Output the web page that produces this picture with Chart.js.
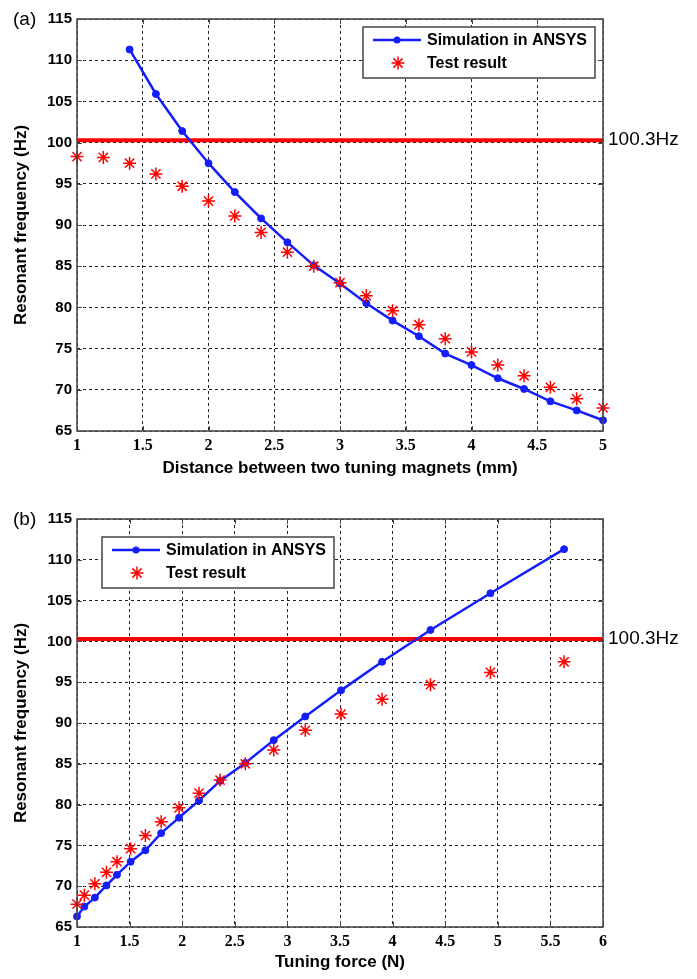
<!DOCTYPE html>
<html>
<head>
<meta charset="utf-8">
<script src="https://cdn.jsdelivr.net/npm/chart.js@4/dist/chart.umd.min.js"></script>
<style>
  html, body { margin: 0; padding: 0; background: #fff; }
  canvas { display: block; }
</style>
</head>
<body>
<canvas id="chartA" width="697" height="490"></canvas>
<canvas id="chartB" width="697" height="489"></canvas>
<script>
// magnet spacing (mm) of the ANSYS runs and the resonant frequency they gave (Hz)
const simDistance = [1.4, 1.6, 1.8, 2.0, 2.2, 2.4, 2.6, 2.8, 3.0, 3.2, 3.4, 3.6, 3.8, 4.0, 4.2, 4.4, 4.6, 4.8, 5.0];
const simFreq = [111.3, 105.9, 101.4, 97.5, 94.0, 90.8, 87.9, 85.1, 82.9, 80.5, 78.4, 76.5, 74.4, 73.0, 71.4, 70.1, 68.6, 67.5, 66.3];

// bench measurements
const testDistance = [1.0, 1.2, 1.4, 1.6, 1.8, 2.0, 2.2, 2.4, 2.6, 2.8, 3.0, 3.2, 3.4, 3.6, 3.8, 4.0, 4.2, 4.4, 4.6, 4.8, 5.0];
const testFreq = [98.3, 98.2, 97.5, 96.2, 94.7, 92.9, 91.1, 89.1, 86.7, 85.0, 83.0, 81.4, 79.6, 77.9, 76.2, 74.6, 73.0, 71.7, 70.3, 68.9, 67.8];

// tuning force (N) between the magnets at each spacing of simDistance
const tuningForce = [5.63, 4.93, 4.36, 3.90, 3.51, 3.17, 2.87, 2.60, 2.36, 2.16, 1.97, 1.80, 1.65, 1.51, 1.38, 1.28, 1.17, 1.07, 1.00];

const targetFreq = 100.3;

const freqTicks = [65, 70, 75, 80, 85, 90, 95, 100, 105, 110, 115];
const distanceTicks = [1, 1.5, 2, 2.5, 3, 3.5, 4, 4.5, 5];
const forceTicks = [1, 1.5, 2, 2.5, 3, 3.5, 4, 4.5, 5, 5.5, 6];

const BLUE = 'rgb(20, 30, 250)';
const RED = 'rgb(255, 0, 0)';
const SANS = '"Liberation Sans", Arial, sans-serif';

// matlab style box: frame, inward ticks, boxed legend, tag and target label
const figureBox = {
  id: 'figureBox',
  afterDraw(chart, args, opts) {
    const { ctx, chartArea: a, scales: { x, y } } = chart;
    ctx.save();

    ctx.strokeStyle = '#4a4a4a';
    ctx.lineWidth = 1;
    ctx.setLineDash([]);
    ctx.beginPath();
    x.ticks.forEach(t => {
      const px = Math.round(x.getPixelForValue(t.value)) + 0.5;
      ctx.moveTo(px, a.top); ctx.lineTo(px, a.top + 5);
      ctx.moveTo(px, a.bottom); ctx.lineTo(px, a.bottom - 5);
    });
    y.ticks.forEach(t => {
      const py = Math.round(y.getPixelForValue(t.value)) + 0.5;
      ctx.moveTo(a.left, py); ctx.lineTo(a.left + 5, py);
      ctx.moveTo(a.right, py); ctx.lineTo(a.right - 5, py);
    });
    ctx.stroke();
    ctx.lineWidth = 1.6;
    ctx.strokeRect(a.left, a.top, a.right - a.left, a.bottom - a.top);

    ctx.fillStyle = '#000';
    ctx.font = '19px ' + SANS;
    ctx.textBaseline = 'middle';
    ctx.textAlign = 'left';
    ctx.fillText(targetFreq + 'Hz', a.right + 5, y.getPixelForValue(targetFreq));
    ctx.fillText(opts.tag, 13, a.top + 1);

    // legend
    const w = 232, h = 51;
    const bx = opts.legendLeft != null ? a.left + opts.legendLeft : a.right - opts.legendRight - w;
    const by = a.top + opts.legendTop;
    ctx.fillStyle = '#fff';
    ctx.fillRect(bx, by, w, h);
    ctx.strokeStyle = '#444';
    ctx.lineWidth = 1.5;
    ctx.strokeRect(bx, by, w, h);

    const sim = chart.data.datasets[0];
    const test = chart.data.datasets[1];
    const r1 = by + 13, r2 = by + 36;
    ctx.strokeStyle = sim.borderColor;
    ctx.lineWidth = sim.borderWidth;
    ctx.beginPath();
    ctx.moveTo(bx + 10, r1); ctx.lineTo(bx + 58, r1);
    ctx.stroke();
    ctx.fillStyle = sim.pointBackgroundColor;
    ctx.beginPath();
    ctx.arc(bx + 34, r1, sim.pointRadius, 0, Math.PI * 2);
    ctx.fill();

    // asterisk marker
    const sx = bx + 35, rr = test.pointRadius;
    ctx.strokeStyle = test.pointBorderColor;
    ctx.lineWidth = test.pointBorderWidth;
    ctx.beginPath();
    for (let k = 0; k < 4; k++) {
      const ang = k * Math.PI / 4;
      ctx.moveTo(sx - Math.cos(ang) * rr, r2 - Math.sin(ang) * rr);
      ctx.lineTo(sx + Math.cos(ang) * rr, r2 + Math.sin(ang) * rr);
    }
    ctx.stroke();

    ctx.fillStyle = '#000';
    ctx.font = 'bold 16px ' + SANS;
    ctx.fillText(sim.label, bx + 64, r1 + 1);
    ctx.fillText(test.label, bx + 64, r2 + 1);

    ctx.restore();
  }
};

function makeDatasets(simX, testPts, xMin, xMax) {
  return [
    {
      label: 'Simulation in ANSYS',
      data: simFreq.map((f, i) => ({ x: simX[i], y: f })),
      showLine: true,
      borderColor: BLUE,
      backgroundColor: BLUE,
      borderWidth: 2.5,
      pointStyle: 'circle',
      pointRadius: 3.5,
      pointBackgroundColor: BLUE,
      pointBorderColor: BLUE,
      pointBorderWidth: 1,
      clip: false,
      order: 1
    },
    {
      label: 'Test result',
      data: testPts,
      showLine: false,
      pointStyle: 'star',
      pointRadius: 6.5,
      pointBorderColor: RED,
      pointBackgroundColor: RED,
      pointBorderWidth: 1.5,
      clip: false,
      order: 0
    },
    {
      label: targetFreq + 'Hz',
      data: [{ x: xMin, y: targetFreq }, { x: xMax, y: targetFreq }],
      showLine: true,
      borderColor: RED,
      borderWidth: 4,
      pointRadius: 0,
      order: 2
    }
  ];
}

function makeOptions(xTicks, xTitle, padTop, axisHeight, titlePad, box) {
  return {
    responsive: false,
    animation: false,
    events: [],
    layout: { padding: { top: padTop, right: 94, left: 0, bottom: 0 } },
    plugins: {
      legend: { display: false },
      tooltip: { enabled: false },
      figureBox: box
    },
    scales: {
      x: {
        type: 'linear',
        min: xTicks[0],
        max: xTicks[xTicks.length - 1],
        afterBuildTicks: s => { s.ticks = xTicks.map(v => ({ value: v })); },
        afterFit: s => { s.height = axisHeight; },
        grid: { color: '#222', lineWidth: 1, drawTicks: false },
        border: { display: false, dash: [3, 3] },
        ticks: {
          color: '#000',
          padding: 5,
          callback: v => String(v),
          font: { family: '"Liberation Serif", serif', weight: 'bold', size: 16 }
        },
        title: { display: true, text: xTitle, color: '#000', padding: { top: 0, bottom: titlePad }, font: { family: SANS, weight: 'bold', size: 17 } }
      },
      y: {
        type: 'linear',
        min: freqTicks[0],
        max: freqTicks[freqTicks.length - 1],
        afterBuildTicks: s => { s.ticks = freqTicks.map(v => ({ value: v })); },
        afterFit: s => { s.width = 77; },
        grid: { color: '#222', lineWidth: 1, drawTicks: false },
        border: { display: false, dash: [3, 3] },
        ticks: { color: '#000', padding: 5, callback: v => String(v), font: { family: SANS, weight: 'bold', size: 15 } },
        title: { display: true, text: 'Resonant frequency (Hz)', color: '#000', padding: { top: 11, bottom: 0 }, font: { family: SANS, weight: 'bold', size: 17 } }
      }
    }
  };
}

try {
  // (a) frequency against magnet spacing
  const ctxA = document.getElementById('chartA').getContext('2d');
  new Chart(ctxA, {
    type: 'scatter',
    data: {
      datasets: makeDatasets(
        simDistance,
        testFreq.map((f, i) => ({ x: testDistance[i], y: f })),
        distanceTicks[0], distanceTicks[distanceTicks.length - 1]
      )
    },
    options: makeOptions(distanceTicks, 'Distance between two tuning magnets (mm)', 19, 59, 11,
      { tag: '(a)', legendRight: 8, legendTop: 8 }),
    plugins: [figureBox]
  });
} catch (e) {
  console.error('chart (a) failed:', e);
}

try {
  // (b) frequency against tuning force, test points from 1.4 mm upward
  const ctxB = document.getElementById('chartB').getContext('2d');
  const testB = testFreq.slice(2).map((f, i) => ({ x: tuningForce[i], y: f }));
  new Chart(ctxB, {
    type: 'scatter',
    data: {
      datasets: makeDatasets(tuningForce, testB, forceTicks[0], forceTicks[forceTicks.length - 1])
    },
    options: makeOptions(forceTicks, 'Tuning force (N)', 29, 52, 6,
      { tag: '(b)', legendLeft: 25, legendTop: 18 }),
    plugins: [figureBox]
  });
} catch (e) {
  console.error('chart (b) failed:', e);
}
</script>
</body>
</html>
